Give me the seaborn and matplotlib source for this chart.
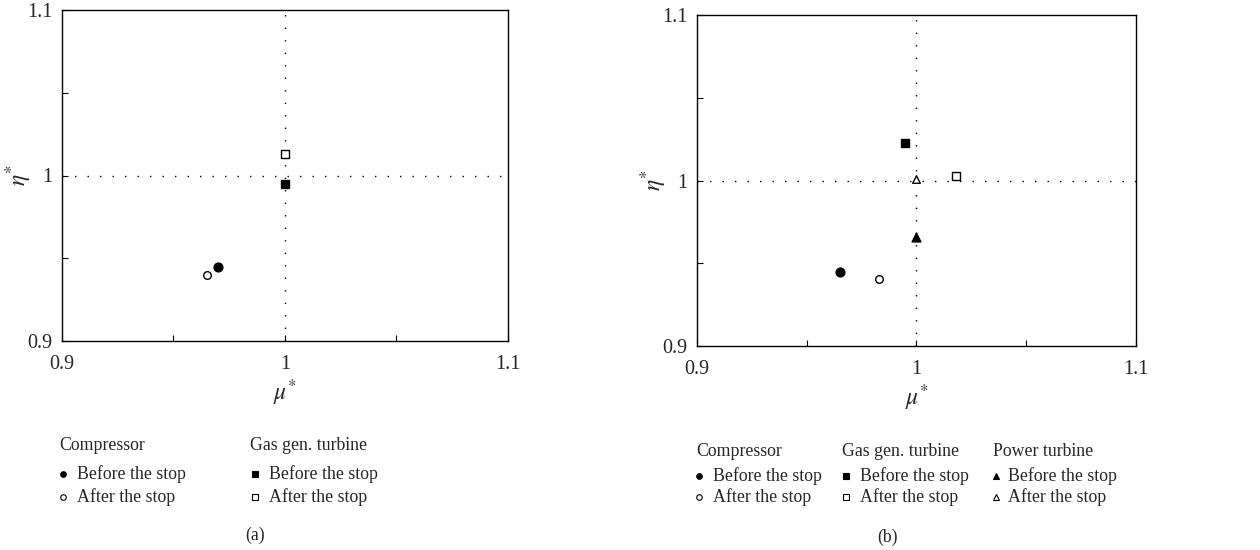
import matplotlib
matplotlib.use("Agg")
import matplotlib.pyplot as plt
from matplotlib.lines import Line2D
import seaborn as sns

# Data (mu*, eta*)
# panel (a)
a_comp_before = ([0.970], [0.9445])
a_comp_after = ([0.965], [0.940])
a_gas_before = ([1.000], [0.995])
a_gas_after = ([1.000], [1.0127])
# panel (b)
b_comp_before = ([0.965], [0.9446])
b_comp_after = ([0.983], [0.9403])
b_gas_before = ([0.9946], [1.0226])
b_gas_after = ([1.018], [1.0028])
b_pow_before = ([1.000], [0.9657])
b_pow_after = ([1.000], [1.0008])

major_ticks = [0.9, 1.0, 1.1]
tick_labels = ["0.9", "1", "1.1"]
minor_ticks = [0.95, 1.05]

sns.set_style("white")
plt.rcParams["font.family"] = ["Liberation Serif", "DejaVu Serif"]
plt.rcParams["mathtext.fontset"] = "stix"

fig = plt.figure(figsize=(12.6, 5.5), dpi=100)
ax_a = fig.add_axes([62 / 1260, 1 - 341 / 550, 446 / 1260, 331 / 550])
ax_b = fig.add_axes([697 / 1260, 1 - 346 / 550, 439 / 1260, 331 / 550])


def point(ax, xy, marker, filled, size):
    sns.scatterplot(x=xy[0], y=xy[1], ax=ax, marker=marker, s=size,
                    color="black" if filled else "white",
                    edgecolor="black", linewidth=1.0, zorder=5)


def style_axes(ax, ylab_x):
    ax.set_xlim(0.9, 1.1)
    ax.set_ylim(0.9, 1.1)
    ax.axvline(1.0, color="black", lw=1.0, ls=(0, (1, 8)), zorder=1)
    ax.axhline(1.0, color="black", lw=1.0, ls=(0, (1, 8)), zorder=1)
    ax.set_xticks(major_ticks)
    ax.set_xticklabels(tick_labels)
    ax.set_yticks(major_ticks)
    ax.set_yticklabels(tick_labels)
    ax.set_xticks(minor_ticks, minor=True)
    ax.set_yticks(minor_ticks, minor=True)
    ax.tick_params(which="both", direction="in", length=4, width=0.8,
                   labelsize=14.5, color="black", bottom=True, left=True)
    ax.tick_params(axis="x", pad=10)
    ax.tick_params(axis="y", pad=7)
    for sp in ax.spines.values():
        sp.set_color("black")
        sp.set_linewidth(1.0)
    ax.set_xlabel(r"$\mu^{*}$", fontsize=17)
    ax.set_ylabel(r"$\eta^{*}$", fontsize=17)
    ax.xaxis.set_label_coords(0.5, -0.155)
    ax.xaxis.label.set_va("center")
    ax.yaxis.set_label_coords(ylab_x, 0.5)
    ax.yaxis.label.set_va("center")


point(ax_a, a_comp_before, "o", True, 40)
point(ax_a, a_comp_after, "o", False, 30)
point(ax_a, a_gas_before, "s", True, 36)
point(ax_a, a_gas_after, "s", False, 30)
style_axes(ax_a, -0.097)

point(ax_b, b_comp_before, "o", True, 40)
point(ax_b, b_comp_after, "o", False, 30)
point(ax_b, b_gas_before, "s", True, 36)
point(ax_b, b_gas_after, "s", False, 30)
point(ax_b, b_pow_before, "^", True, 40)
point(ax_b, b_pow_after, "^", False, 30)
style_axes(ax_b, -0.098)


def legend_block(x_head, x_mark, x_text, y_head, y_b, y_a, title, marker):
    W, H = 1260, 550
    fig.text(x_head / W, 1 - y_head / H, title, fontsize=12.8, va="center", ha="left")
    for y, filled, lab in [(y_b, True, "Before the stop"), (y_a, False, "After the stop")]:
        fig.add_artist(Line2D([x_mark / W], [1 - y / H], transform=fig.transFigure,
                              marker=marker, markersize=4, linestyle="none",
                              markerfacecolor="black" if filled else "white",
                              markeredgecolor="black", markeredgewidth=0.8))
        fig.text(x_text / W, 1 - y / H, lab, fontsize=12.8, va="center", ha="left")


legend_block(59, 63, 77, 446, 474, 497, "Compressor", "o")
legend_block(250, 255, 269, 446, 474, 497, "Gas gen. turbine", "s")
fig.text(255 / 1260, 1 - 535 / 550, "(a)", fontsize=12.8, ha="center", va="center")

legend_block(696, 699, 713, 451, 476, 497, "Compressor", "o")
legend_block(842, 846, 860, 451, 476, 497, "Gas gen. turbine", "s")
legend_block(993, 996, 1008, 451, 476, 497, "Power turbine", "^")
fig.text(887 / 1260, 1 - 537 / 550, "(b)", fontsize=12.8, ha="center", va="center")

fig.savefig("out.png", dpi=100)
